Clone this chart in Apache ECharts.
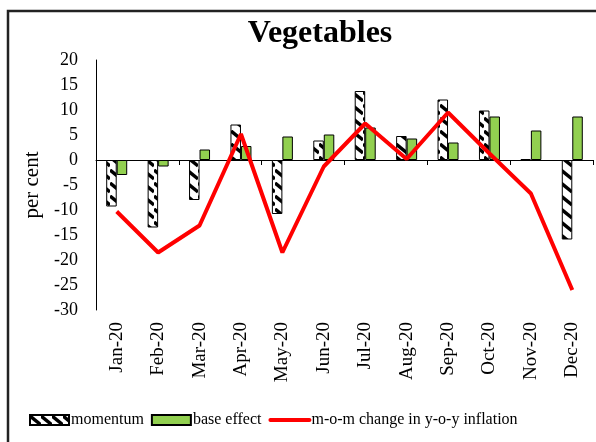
<!DOCTYPE html>
<html>
<head>
<meta charset="utf-8">
<script src="https://cdn.jsdelivr.net/npm/echarts@6/dist/echarts.min.js"></script>
<style>
  html, body { margin: 0; padding: 0; background: #fff; }
  #chart { width: 596px; height: 442px; }
</style>
</head>
<body>
<div id="chart"></div>
<script>
var months = ['Jan-20', 'Feb-20', 'Mar-20', 'Apr-20', 'May-20', 'Jun-20',
              'Jul-20', 'Aug-20', 'Sep-20', 'Oct-20', 'Nov-20', 'Dec-20'];
var momentum = [-9.3, -13.5, -8.0, 7.1, -10.8, 3.9, 13.8, 4.8, 12.1, 9.9, 0.2, -15.9];
var baseEffect = [-3.0, -1.3, 2.1, 2.8, 4.7, 5.1, 6.5, 4.3, 3.5, 8.7, 5.9, 8.7];
var momChange = [-10.3, -18.5, -13.1, 5.2, -18.5, -1.3, 7.3, 0.2, 9.5, 1.3, -6.7, -26.0];

var serif = 'Liberation Serif';

// hatch tile for the momentum bars: white with black "\" streaks
function hatchTile() {
    var c = document.createElement('canvas');
    c.width = 11; c.height = 13;
    var ctx = c.getContext('2d');
    ctx.fillStyle = '#fff';
    ctx.fillRect(0, 0, 11, 13);
    ctx.strokeStyle = '#000';
    ctx.lineWidth = 3.5;
    ctx.beginPath();
    ctx.moveTo(0, 1); ctx.lineTo(11, 10);
    ctx.stroke();
    return c;
}

var myChart = echarts.init(document.getElementById('chart'), null, {renderer: 'canvas'});

option = {
    animation: false,
    graphic: [{
        type: 'rect',
        shape: { x: 8, y: 11, width: 640, height: 480 },
        style: { fill: 'none', stroke: '#222', lineWidth: 2.5 },
        silent: true
    }, {
        type: 'text',
        x: 320,
        y: 34,
        style: {
            text: 'Vegetables',
            align: 'center',
            verticalAlign: 'middle',
            font: 'bold 32px "Liberation Serif"',
            fill: '#000'
        }
    }],
    legend: {
        bottom: 9,
        left: 24,
        itemWidth: 39,
        itemHeight: 10,
        itemGap: 7,
        textStyle: { fontFamily: serif, fontSize: 16, color: '#000', padding: [0, 0, 0, -3] },
        data: [
            { name: 'momentum', icon: 'rect' },
            { name: 'base effect', icon: 'rect' },
            {
                name: 'm-o-m change in y-o-y inflation',
                itemStyle: { opacity: 0 },
                lineStyle: { width: 4, cap: 'round' }
            }
        ]
    },
    grid: { left: 96, right: 3, top: 60, bottom: 132 },
    xAxis: [{
        type: 'category',
        data: months,
        axisLine: { show: false, onZero: false },
        axisTick: { show: false },
        axisLabel: { rotate: 90, margin: 12, fontFamily: serif, fontSize: 19, color: '#000' }
    }, {
        type: 'category',
        data: months,
        position: 'bottom',
        axisLine: { onZero: true, lineStyle: { color: '#000', width: 1 } },
        axisTick: { show: true, length: 5, lineStyle: { color: '#000' } },
        axisLabel: { show: false }
    }],
    yAxis: {
        type: 'value',
        min: -30,
        max: 20,
        interval: 5,
        name: 'per cent',
        nameLocation: 'middle',
        nameGap: 51,
        nameTextStyle: { fontFamily: serif, fontSize: 21, color: '#000' },
        axisLine: { show: true, lineStyle: { color: '#000', width: 1 } },
        axisTick: { show: false },
        splitLine: { show: false },
        axisLabel: { margin: 18, fontFamily: serif, fontSize: 18, color: '#000' }
    },
    series: [{
        name: 'momentum',
        type: 'bar',
        data: momentum,
        barWidth: 10.5,
        barGap: '0%',
        itemStyle: {
            color: { image: hatchTile(), repeat: 'repeat' },
            borderColor: '#000',
            borderWidth: 1
        }
    }, {
        name: 'base effect',
        type: 'bar',
        data: baseEffect,
        barWidth: 10.5,
        itemStyle: { color: '#92D050', borderColor: '#000', borderWidth: 1 }
    }, {
        name: 'm-o-m change in y-o-y inflation',
        type: 'line',
        data: momChange,
        symbol: 'none',
        itemStyle: { color: '#FF0000' },
        lineStyle: { color: '#FF0000', width: 4 },
        z: 5
    }]
};

myChart.setOption(option);
</script>
</body>
</html>
